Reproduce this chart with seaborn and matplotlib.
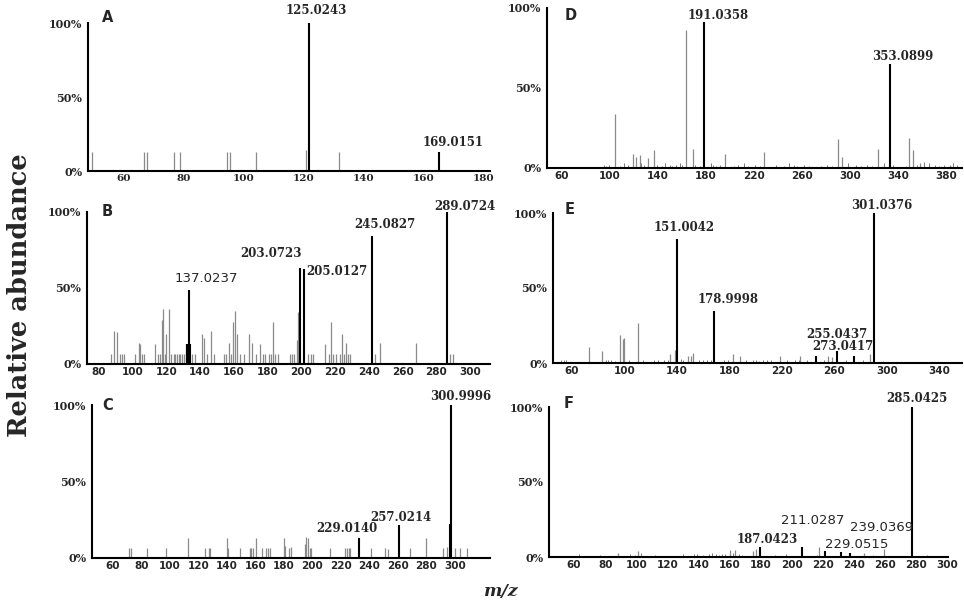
import matplotlib
matplotlib.use('Agg')
import matplotlib.pyplot as plt
import seaborn as sns

# ---------------- data (m/z position, % abundance) ----------------
# A
a_minor_mz = [49.5, 66.9, 67.9, 76.8, 78.8, 94.4, 95.6, 104.2, 120.8, 131.7]
a_minor_h = [13, 13, 13, 13, 13, 13, 13, 13, 14, 13]
a_peak_mz = [121.7, 164.9]
a_peak_h = [100, 13]
a_peak_lab = ['125.0243', '169.0151']

# B
b_minor_mz = [87.3, 89.3, 90.8, 92.4, 93.8, 94.8, 101.7, 103.7, 104.7, 105.6, 107, 113.5, 115,
              116.5, 117.5, 118.3, 119.4, 120, 121.6, 122.8, 124.4, 125.4, 126.4, 127.3, 128.3,
              129.3, 130.7, 131.9, 135.2, 137.2, 141.1, 142.5, 144.1, 146.5, 148, 154, 155.3,
              156.9, 158.3, 159.5, 160.9, 161.9, 163.8, 165.8, 169.3, 170.7, 173.3, 175.7, 177.2,
              178.6, 180.6, 182, 183.2, 184.5, 185.9, 193, 194.4, 195.8, 197.4, 198.3, 203.9,
              205.6, 207.2, 214.1, 216.1, 217.5, 219, 220.6, 222.6, 224, 225.4, 226.5, 227.9,
              228.9, 243.7, 246.7, 268, 288.1, 290]
b_minor_h = [6.6, 22, 21, 6.6, 6.6, 6.6, 6.6, 14, 13, 6.6, 6.6, 13, 6.6,
             6.6, 29, 36, 6.6, 20, 36, 6.6, 6.6, 6.6, 6.6, 6.6, 6.6,
             6.6, 6.6, 13, 6.6, 6.6, 20, 17, 6.6, 22, 6.6, 6.6, 6.6,
             14, 6.6, 27.5, 35, 20, 6.6, 6.6, 20, 14, 6.6, 13, 6.6,
             6.6, 6.6, 6.6, 27.5, 6.6, 6.6, 6.6, 6.6, 6.6, 16, 34, 6.6,
             6.6, 6.6, 13, 6.6, 27.5, 6.6, 6.6, 6.6, 20, 6.6, 14, 6.6,
             6.6, 6.6, 14, 14, 6.6, 6.6]
b_peak_mz = [132.6, 133.3, 134.2, 199.3, 201.3, 241.7, 286.0]
b_peak_h = [13, 48.8, 13, 63, 62.4, 84, 100]
b_peak_lab = ['', '137.0237', '', '203.0723', '205.0127', '245.0827', '289.0724']

# C
c_minor_mz = [71, 72.9, 83.9, 97, 112.9, 124.9, 127.2, 128.4, 140.3, 141, 149, 156, 157.2,
              158.4, 160.2, 164.7, 167.7, 168.9, 170.5, 179.9, 180.6, 183.7, 184.6, 194.7,
              195.8, 197, 198.2, 199.3, 212.2, 223.2, 224.4, 225.6, 226.7, 240.8, 250.9,
              253.2, 268.4, 280.1, 291.9, 294.2, 300, 303.6, 308.2]
c_minor_h = [6.5, 6.5, 6.5, 6.5, 13, 6.5, 6.5, 6.5, 13, 6.5, 6.5, 6.5, 6.5,
             6.5, 13, 6.5, 6.5, 6.5, 6.5, 13, 8, 6.5, 7, 9,
             14, 13, 6.5, 6.5, 6.5, 6.5, 6.5, 6.5, 6.5, 6.5, 6.5,
             6, 6.5, 13, 6.5, 7, 6.5, 6.5, 6.5]
c_peak_mz = [232.6, 260.7, 296.3, 297.0]
c_peak_h = [13, 21.3, 22, 100]
c_peak_lab = ['229.0140', '257.0214', '', '300.9996']

# D
d_minor_mz = [104.2, 119.4, 122, 125, 132, 137, 163, 168.9, 195.8, 228.3, 289.7, 293,
              323.6, 349.4, 352.2, 358.3, 383]
d_minor_h = [33.8, 9, 7, 8, 6, 11, 86, 12, 9, 10, 18, 7,
             12, 18.5, 11, 3, 2]
d_noise_mz = [95, 97, 99, 108, 112, 115, 126, 128, 139, 143, 146, 150, 152, 155, 158, 160,
              171, 175, 184, 186, 188, 192, 203, 207, 212, 215, 221, 225, 238, 245, 249,
              253, 256, 262, 266, 276, 281, 285, 298, 305, 309, 314, 318, 328, 336, 347,
              356, 362, 366, 371, 374, 378, 386, 389]
d_noise_h = [2, 1.5, 2, 1, 3, 2, 3, 2, 2, 1, 3, 2, 1.5, 2, 3, 2,
             2, 1, 3, 2, 1.5, 2, 1, 2, 3, 1, 2, 1.5, 2, 1, 3,
             2, 1, 2, 1.5, 1, 2, 1, 3, 2, 1, 2, 1.5, 3, 2, 1,
             2, 4, 3, 2, 1.5, 2, 3, 2]
d_peak_mz = [178.3, 333.3]
d_peak_h = [91, 65]
d_peak_lab = ['191.0358', '353.0899']

# E
e_minor_mz = [73, 83.1, 96.6, 99.1, 99.8, 110.8, 134.7, 138.5, 148.6, 150.7, 152.4, 182.9,
              188.5, 218.5, 234.2, 255.3, 257.9, 287]
e_minor_h = [10.6, 7.7, 18.8, 16, 17, 27, 6, 9, 5, 5, 7, 6,
             5, 5, 5, 5, 4, 6]
e_noise_mz = [52, 54, 56, 86, 88, 90, 93, 104, 114, 123, 126, 130, 133, 143, 145, 157, 160,
              163, 166, 176, 179, 193, 198, 200, 203, 206, 209, 212, 224, 230, 233, 239, 252,
              269, 282, 297]
e_noise_h = [2, 2, 2, 2, 2, 2, 1.5, 2, 2, 2, 2, 2, 2, 3, 2, 2, 2,
             2, 2, 2, 2, 2, 2, 2, 1.5, 2, 2, 2, 2, 2, 2, 2, 2,
             2, 2, 1.5]
e_peak_mz = [140.5, 168.4, 245.9, 262.4, 275.1, 290.3]
e_peak_h = [83, 35, 5, 7.7, 5, 100]
e_peak_lab = ['151.0042', '178.9998', '255.0437', '273.0417', '', '301.0376']

# F
f_minor_mz = [88.4, 101.3, 160, 163.6, 175, 177.2, 217.3, 246.5, 259.4]
f_minor_h = [2.5, 4, 5, 4.5, 4, 5.5, 7, 3, 5.5]
f_noise_mz = [52, 63, 67, 73, 77, 81, 85, 96, 99, 103, 108, 112, 121, 127, 130, 133, 137,
              139, 143, 147, 149, 151, 153, 155, 157, 162, 166, 168, 171, 186, 189, 193, 196,
              199, 213, 216, 225, 243, 252, 255, 266, 283, 287]
f_noise_h = [1, 2, 1, 1, 1.5, 1, 1, 2, 1.5, 3, 1, 1.5, 1, 1, 2, 1, 2,
             2, 1.5, 2, 2.5, 2, 1.5, 2, 2, 3, 2, 1.5, 1, 1, 1.5, 1, 2,
             1, 1, 1.5, 1, 1, 1.5, 1, 1, 1, 1.5]
f_peak_mz = [179.8, 206.7, 221.3, 231.4, 237.2, 277.2]
f_peak_h = [6.4, 6.6, 3.8, 3.3, 3, 100]
f_peak_lab = ['187.0423', '211.0287', '229.0515', '', '239.0369', '285.0425']

y_ticks = [0, 50, 100]
y_tick_lab = ['0%', '50%', '100%']

# ---------------- layout (pixels in the 964x612 picture) ----------------
W, H = 964, 612
SERIF = 'DejaVu Serif'
SANS = 'DejaVu Sans'
sans_labels = {'137.0237', '211.0287', '239.0369', '229.0515'}

layout = {
    'A': dict(box=(88, 23, 490, 171), xlim=(48.3, 182), xticks=range(60, 181, 20),
              tickfont=SERIF, letter=(108, 17),
              offs=[(8, -12.3), (14, -9.7)]),
    'B': dict(box=(87, 212, 490, 364), xlim=(73.1, 311.7), xticks=range(80, 301, 20),
              tickfont=SANS, letter=(107, 211),
              offs=[None, (18, -11.3), None, (-29, -15), (33, 2), (13.5, -11.7), (18, -5.3)]),
    'C': dict(box=(92, 405, 490, 558), xlim=(45.2, 324.7), xticks=range(60, 301, 20),
              tickfont=SANS, letter=(108, 405),
              offs=[(-12, -9.3), (2, -8.4), None, (10, -8.3)]),
    'D': dict(box=(547, 8, 962, 168), xlim=(47.5, 393.3), xticks=range(60, 381, 40),
              tickfont=SANS, letter=(571, 16),
              offs=[(14, -7), (13, -7)]),
    'E': dict(box=(553, 213, 962, 363), xlim=(45.8, 357.2), xticks=range(60, 341, 40),
              tickfont=SANS, letter=(570, 210),
              offs=[(7, -11), (14, -11.4), (20.7, -21), (5.6, -5), None, (8, -7.7)]),
    'F': dict(box=(549, 407, 948, 557), xlim=(43.9, 300.5), xticks=range(60, 301, 20),
              tickfont=SANS, letter=(569, 404),
              offs=[(7, -7.7), (11, -27), (31.5, -6.7), None, (32, -25.3), (5, -8.7)]),
}

spectra = {
    'A': (a_minor_mz, a_minor_h, [], [], a_peak_mz, a_peak_h, a_peak_lab),
    'B': (b_minor_mz, b_minor_h, [], [], b_peak_mz, b_peak_h, b_peak_lab),
    'C': (c_minor_mz, c_minor_h, [], [], c_peak_mz, c_peak_h, c_peak_lab),
    'D': (d_minor_mz, d_minor_h, d_noise_mz, d_noise_h, d_peak_mz, d_peak_h, d_peak_lab),
    'E': (e_minor_mz, e_minor_h, e_noise_mz, e_noise_h, e_peak_mz, e_peak_h, e_peak_lab),
    'F': (f_minor_mz, f_minor_h, f_noise_mz, f_noise_h, f_peak_mz, f_peak_h, f_peak_lab),
}

sns.set_theme(style='white')
plt.rcParams['font.family'] = ['DejaVu Sans']

fig = plt.figure(figsize=(W / 100, H / 100), dpi=100)

for key, lay in layout.items():
    minor_mz, minor_h, noise_mz, noise_h, pk_mz, pk_h, pk_lab = spectra[key]
    l, t, r, b = lay['box']
    ax = fig.add_axes([l / W, 1 - b / H, (r - l) / W, (b - t) / H])

    ax.vlines(noise_mz, 0, noise_h, color='#7a7a7a', lw=0.7)
    ax.vlines(minor_mz, 0, minor_h, color='#8a8a8a', lw=0.9)
    ax.vlines(pk_mz, 0, pk_h, color='black', lw=1.5)

    for mz, h, lab, off in zip(pk_mz, pk_h, pk_lab, lay['offs']):
        if not lab:
            continue
        if lab in sans_labels:
            fp = dict(family=SANS, fontsize=9.5)
        else:
            fp = dict(family=SERIF, fontsize=8.5, fontweight='bold')
        ax.annotate(lab, (mz, h), xytext=(off[0] * 0.72, -off[1] * 0.72),
                    textcoords='offset points', ha='center', va='center',
                    annotation_clip=False, **fp)

    ax.set_xlim(*lay['xlim'])
    ax.set_ylim(0, 100)
    ax.set_xticks(list(lay['xticks']))
    ax.set_yticks(y_ticks)
    ax.set_yticklabels(y_tick_lab, family=SERIF, fontweight='bold', fontsize=8)
    if lay['tickfont'] == SERIF:
        ax.set_xticklabels([str(v) for v in lay['xticks']], family=SERIF,
                           fontweight='bold', fontsize=7.5)
    else:
        ax.set_xticklabels([str(v) for v in lay['xticks']], family=SANS,
                           fontweight='bold', fontsize=7.5)
    ax.tick_params(axis='both', length=0)
    ax.tick_params(axis='x', pad=2.5)
    ax.tick_params(axis='y', pad=4)
    sns.despine(ax=ax)
    for s in ('left', 'bottom'):
        ax.spines[s].set_color('black')
        ax.spines[s].set_linewidth(1.5)
    ax.set_facecolor('none')

    lx, ly = lay['letter']
    fig.text(lx / W, 1 - ly / H, key, family=SANS, fontweight='bold', fontsize=10.5,
             ha='center', va='center')

fig.text(20 / W, 1 - 295 / H, 'Relative abundance', rotation=90, family=SERIF,
         fontweight='bold', fontsize=18.5, ha='center', va='center')
fig.text(500 / W, 1 - 591 / H, 'm/z', family=SERIF, style='italic', fontweight='bold',
         fontsize=12.5, ha='center', va='center')

fig.savefig('out.png', dpi=100)
